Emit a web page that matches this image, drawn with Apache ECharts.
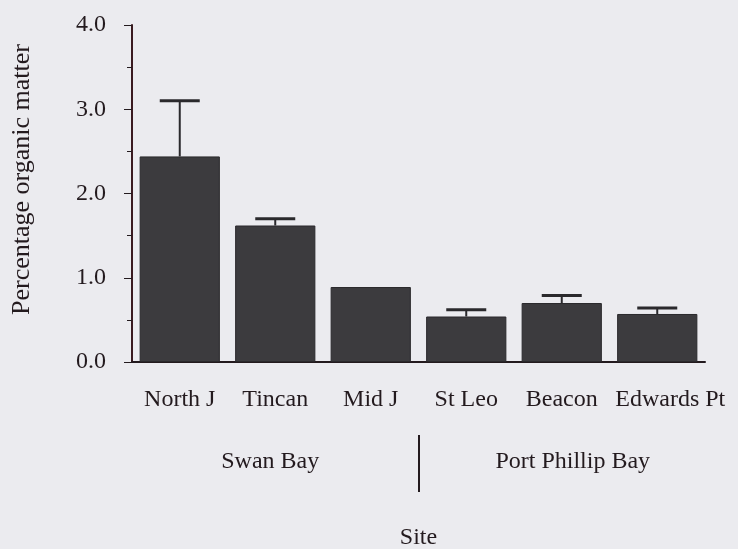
<!DOCTYPE html>
<html>
<head>
<meta charset="utf-8">
<script src="https://cdn.jsdelivr.net/npm/echarts@6/dist/echarts.min.js"></script>
<style>
  html, body { margin: 0; padding: 0; background: #ebebef; }
  #chart { width: 738px; height: 549px; }
</style>
</head>
<body>
<div id="chart"></div>
<script>
// 有机质含量柱状图（带误差线）
var chart = echarts.init(document.getElementById('chart'));

// 数据
var sites = ['North J', 'Tincan', 'Mid J', 'St Leo', 'Beacon', 'Edwards Pt'];
var means = [2.44, 1.62, 0.89, 0.54, 0.70, 0.57];
var upper = [3.10, 1.70, null, 0.62, 0.79, 0.64];
var bays = ['Swan Bay', 'Port Phillip Bay'];

var ink = '#231a1e';
var font = 'Liberation Serif';

var errData = [];
sites.forEach(function (s, i) {
    if (upper[i] != null) errData.push([i, means[i], upper[i]]);
});

var option = {
    backgroundColor: '#ebebef',
    animation: false,
    grid: { left: 132, right: 33, top: 25, bottom: 187, outerBoundsMode: 'none' },
    xAxis: [
        {
            type: 'category',
            data: sites,
            axisLine: { lineStyle: { color: ink, width: 2 } },
            axisTick: { length: 5, lineStyle: { color: ink } },
            axisLabel: {
                color: ink, fontFamily: font, fontSize: 24, margin: 26, interval: 0,
                formatter: function (v, i) {
                    // 最后一个标签在原图中略向右偏
                    return i === sites.length - 1 ? '{r|' + v + '}' : v;
                },
                rich: { r: { fontFamily: font, fontSize: 24, color: ink, padding: [0, 0, 0, 26] } }
            },
            name: 'Site',
            nameLocation: 'middle',
            nameGap: 164,
            nameTextStyle: { color: ink, fontFamily: font, fontSize: 24 }
        },
        {
            type: 'category',
            data: bays,
            position: 'bottom',
            offset: 88,
            axisLine: { show: false },
            axisTick: { show: false },
            axisLabel: {
                color: ink, fontFamily: font, fontSize: 24, margin: 0,
                formatter: function (v, i) {
                    return i === 0 ? '{a|' + v + '}' : '{b|' + v + '}';
                },
                rich: {
                    a: { fontFamily: font, fontSize: 24, color: ink, padding: [0, 10, 0, 0] },
                    b: { fontFamily: font, fontSize: 24, color: ink, padding: [0, 0, 0, 22] }
                }
            }
        }
    ],
    yAxis: {
        type: 'value',
        min: 0,
        max: 4,
        interval: 1,
        name: 'Percentage organic matter',
        nameLocation: 'middle',
        nameGap: 97,
        nameRotate: 90,
        nameTextStyle: { color: ink, fontFamily: font, fontSize: 26, padding: [0, 0, 0, 28] },
        axisLine: { show: true, lineStyle: { color: '#3a1a20', width: 2 } },
        axisTick: { show: true, length: 8, lineStyle: { color: ink } },
        minorTick: { show: true, splitNumber: 2, length: 5, lineStyle: { color: ink } },
        splitLine: { show: false },
        axisLabel: {
            color: ink, fontFamily: font, fontSize: 24, margin: 26,
            padding: [0, 0, 11, 0],
            formatter: function (v) { return v.toFixed(1); }
        }
    },
    graphic: [
        {
            type: 'line',
            shape: { x1: 419, y1: 435, x2: 419, y2: 492 },
            style: { stroke: ink, lineWidth: 2 }
        }
    ],
    series: [
        {
            type: 'bar',
            data: means,
            barCategoryGap: '16%',
            itemStyle: { color: '#3c3b3e', borderColor: '#2a292c', borderWidth: 1 }
        },
        {
            type: 'custom',
            data: errData,
            z: 1,
            renderItem: function (params, api) {
                var base = api.coord([api.value(0), api.value(1)]);
                var top = api.coord([api.value(0), api.value(2)]);
                var half = 20;
                return {
                    type: 'group',
                    children: [
                        {
                            type: 'line',
                            shape: { x1: base[0], y1: base[1], x2: top[0], y2: top[1] },
                            style: { stroke: '#2a292c', lineWidth: 2 }
                        },
                        {
                            type: 'line',
                            shape: { x1: top[0] - half, y1: top[1], x2: top[0] + half, y2: top[1] },
                            style: { stroke: '#2a292c', lineWidth: 3 }
                        }
                    ]
                };
            }
        }
    ]
};

chart.setOption(option);
</script>
</body>
</html>
